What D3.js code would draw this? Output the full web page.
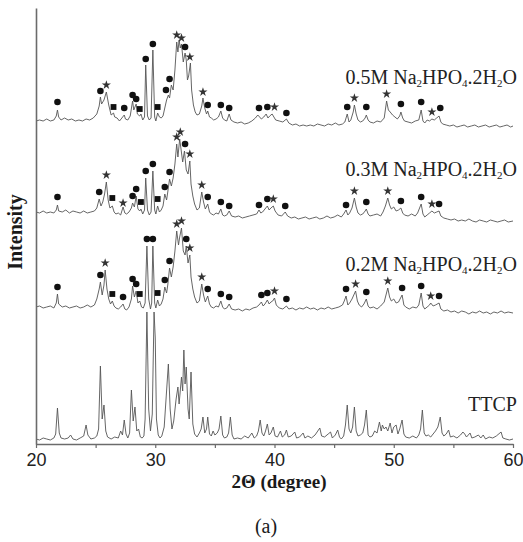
<!DOCTYPE html>
<html>
<head>
<meta charset="utf-8">
<script src="https://cdn.jsdelivr.net/npm/d3@7"></script>
<style>
  body { margin: 0; background: #fff; }
</style>
</head>
<body>
<div id="chart"></div>
<script>
// 2θ (degree), intensity above each pattern's own baseline (arbitrary units)
const m05 = [
  [20.0,-1],[20.3,0],[20.6,-1],[20.9,1],[21.2,-1],[21.5,0],[21.7,4],[21.8,10],[21.9,3],[22.1,0],[22.4,2],[22.7,0],
  [23.0,1],[23.3,-1],[23.6,0],[23.9,-1],[24.2,1],[24.5,0],[24.8,2],[25.1,6],[25.3,14],[25.4,23],[25.5,16],[25.7,20],
  [25.9,28],[26.1,15],[26.3,5],[26.5,7],[26.6,3],[26.8,2],[27.0,-1],[27.2,2],[27.4,5],[27.5,1],[27.7,0],[27.9,4],
  [28.1,19],[28.2,10],[28.4,16],[28.5,6],[28.7,4],[28.8,6],[28.95,0],[29.1,3],[29.2,55],[29.35,4],[29.5,0],[29.65,2],
  [29.8,70],[29.95,3],[30.05,-1],[30.2,7],[30.35,3],[30.5,2],[30.65,4],[30.8,12],[30.95,20],[31.1,25],[31.2,22],
  [31.35,35],[31.5,30],[31.65,50],[31.8,78],[31.9,68],[32.0,80],[32.1,72],[32.2,76],[32.35,58],[32.5,67],[32.6,60],
  [32.7,40],[32.8,44],[32.95,57],[33.05,30],[33.2,15],[33.35,8],[33.5,5],[33.7,6],[33.9,14],[34.0,22],[34.15,12],
  [34.3,6],[34.4,9],[34.55,3],[34.7,2],[34.9,0],[35.1,1],[35.3,3],[35.5,9],[35.65,2],[35.8,0],[36.0,-1],[36.2,6],
  [36.35,0],[36.6,-2],[36.9,-3],[37.2,-2],[37.5,-4],[37.8,-3],[38.1,-1],[38.4,2],[38.6,5],[38.75,3],[38.9,1],[39.1,3],
  [39.3,6],[39.45,2],[39.6,4],[39.8,6],[39.95,3],[40.1,0],[40.4,-1],[40.7,-2],[41.0,1],[41.2,-3],[41.5,-5],[41.8,-4],
  [42.1,-6],[42.4,-5],[42.7,-6],[43.0,-5],[43.3,-6],[43.6,-4],[43.9,-5],[44.2,-6],[44.5,-4],[44.8,-5],[45.1,-3],
  [45.4,-5],[45.7,-4],[45.9,-2],[46.1,6],[46.25,-2],[46.4,0],[46.6,8],[46.7,15],[46.85,6],[47.0,0],[47.2,-2],[47.4,-1],
  [47.6,2],[47.7,5],[47.85,0],[48.0,-2],[48.3,-3],[48.6,-1],[48.9,-2],[49.2,2],[49.4,19],[49.55,10],[49.7,8],[49.9,5],
  [50.1,3],[50.3,1],[50.5,4],[50.6,8],[50.75,2],[50.9,-1],[51.2,-2],[51.5,-3],[51.8,-1],[52.1,0],[52.3,10],[52.45,-1],
  [52.6,-3],[52.8,0],[53.0,-1],[53.2,1],[53.4,0],[53.6,2],[53.8,4],[53.95,-2],[54.1,-4],[54.4,-5],[54.7,-6],[55.0,-5],
  [55.3,-7],[55.6,-6],[55.9,-5],[56.2,-7],[56.5,-6],[56.8,-5],[57.1,-7],[57.4,-6],[57.7,-5],[58.0,-7],[58.3,-6],
  [58.6,-5],[58.9,-7],[59.2,-6],[59.5,-5],[59.8,-7],[60.0,-6]
];

const m03 = [
  [20.0,0],[20.3,-1],[20.6,1],[20.9,-1],[21.2,0],[21.5,-1],[21.7,2],[21.8,7],[21.9,1],[22.2,0],[22.5,2],[22.8,-1],
  [23.1,1],[23.4,0],[23.7,-1],[24.0,1],[24.3,-1],[24.6,0],[24.9,1],[25.1,4],[25.3,13],[25.45,6],[25.6,10],[25.75,18],
  [25.9,30],[26.05,12],[26.2,4],[26.4,6],[26.55,0],[26.7,-2],[26.9,-1],[27.1,-3],[27.3,5],[27.45,-1],[27.6,-2],
  [27.8,0],[28.0,4],[28.1,9],[28.25,5],[28.4,16],[28.55,3],[28.7,1],[28.8,3],[28.95,-2],[29.1,2],[29.2,34],[29.35,2],
  [29.5,-3],[29.65,0],[29.8,41],[29.95,2],[30.05,-2],[30.2,6],[30.35,0],[30.5,2],[30.65,6],[30.8,18],[30.95,12],
  [31.05,20],[31.2,33],[31.35,26],[31.5,34],[31.65,48],[31.8,68],[31.9,55],[32.05,73],[32.15,64],[32.3,50],[32.45,61],
  [32.6,42],[32.75,38],[32.9,51],[33.0,28],[33.15,16],[33.3,8],[33.5,2],[33.7,4],[33.9,20],[34.05,10],[34.2,3],
  [34.4,8],[34.55,0],[34.7,-2],[34.9,-3],[35.1,-1],[35.3,-2],[35.5,3],[35.65,-3],[35.8,-4],[36.0,-3],[36.2,1],
  [36.4,-4],[36.7,-5],[37.0,-4],[37.3,-6],[37.6,-5],[37.9,-4],[38.2,-3],[38.5,-2],[38.7,2],[38.85,-1],[39.0,0],
  [39.2,3],[39.4,6],[39.55,2],[39.7,4],[39.9,6],[40.05,1],[40.3,-3],[40.6,-4],[40.9,0],[41.1,-4],[41.4,-6],[41.7,-5],
  [42.0,-7],[42.3,-6],[42.6,-5],[42.9,-7],[43.2,-6],[43.5,-5],[43.8,-7],[44.1,-6],[44.4,-4],[44.7,-6],[45.0,-5],
  [45.3,-3],[45.6,-5],[45.8,-2],[46.0,2],[46.15,-3],[46.3,-1],[46.5,4],[46.7,14],[46.85,5],[47.0,-1],[47.2,-3],
  [47.4,-2],[47.6,1],[47.7,3],[47.85,-2],[48.0,-4],[48.3,-3],[48.6,-2],[48.9,-4],[49.1,0],[49.3,6],[49.5,14],
  [49.65,7],[49.8,3],[50.0,5],[50.2,1],[50.4,2],[50.6,4],[50.75,-1],[50.9,-3],[51.2,-4],[51.5,-2],[51.8,-4],[52.0,-1],
  [52.3,8],[52.45,-2],[52.6,-5],[52.8,-3],[53.0,-1],[53.2,1],[53.4,-1],[53.6,0],[53.8,1],[53.95,-4],[54.2,-6],
  [54.5,-7],[54.8,-8],[55.1,-7],[55.4,-9],[55.7,-8],[56.0,-9],[56.3,-7],[56.6,-9],[56.9,-10],[57.2,-8],[57.5,-9],
  [57.8,-10],[58.1,-8],[58.4,-9],[58.7,-10],[59.0,-9],[59.3,-8],[59.6,-10],[60.0,-9]
];

const m02 = [
  [20.0,0],[20.3,1],[20.6,-1],[20.9,0],[21.2,1],[21.5,-1],[21.7,4],[21.8,13],[21.9,3],[22.2,0],[22.5,1],[22.8,-1],
  [23.1,0],[23.4,1],[23.7,-1],[24.0,0],[24.3,2],[24.6,0],[24.9,2],[25.1,8],[25.3,18],[25.4,25],[25.55,12],[25.7,22],
  [25.8,37],[25.95,18],[26.1,8],[26.25,3],[26.4,6],[26.55,1],[26.7,-1],[26.9,-2],[27.1,0],[27.3,3],[27.45,-2],
  [27.6,-3],[27.8,0],[28.0,8],[28.1,21],[28.25,10],[28.4,16],[28.55,4],[28.7,6],[28.85,0],[29.0,-1],[29.15,4],
  [29.3,61],[29.45,8],[29.6,-2],[29.7,4],[29.8,61],[29.95,4],[30.05,-1],[30.2,7],[30.35,1],[30.5,3],[30.65,8],
  [30.8,20],[30.95,14],[31.05,22],[31.2,39],[31.35,30],[31.5,40],[31.65,56],[31.8,76],[31.95,62],[32.05,70],[32.2,79],
  [32.35,56],[32.5,52],[32.6,61],[32.75,44],[32.9,52],[33.0,30],[33.15,18],[33.3,10],[33.5,4],[33.7,6],[33.9,23],
  [34.05,12],[34.2,5],[34.4,11],[34.55,3],[34.7,0],[34.9,-1],[35.1,1],[35.3,0],[35.5,6],[35.65,0],[35.8,-2],[36.0,-1],
  [36.2,3],[36.4,-2],[36.7,-3],[37.0,-2],[37.3,-4],[37.6,-2],[37.9,-3],[38.2,-1],[38.5,0],[38.7,2],[38.9,5],[39.05,1],
  [39.2,3],[39.4,7],[39.55,3],[39.7,5],[39.85,6],[40.0,9],[40.15,2],[40.4,-1],[40.7,-2],[41.0,1],[41.2,-2],[41.5,-1],
  [41.8,-3],[42.1,-1],[42.4,-2],[42.7,0],[43.0,-2],[43.3,-1],[43.6,-3],[43.9,-1],[44.2,-2],[44.5,0],[44.8,-2],
  [45.1,-1],[45.4,0],[45.7,2],[45.85,6],[46.0,11],[46.15,2],[46.3,4],[46.5,8],[46.8,16],[46.95,6],[47.1,2],[47.3,0],
  [47.5,3],[47.7,8],[47.85,1],[48.0,-1],[48.3,0],[48.6,-2],[48.9,1],[49.2,5],[49.5,19],[49.65,10],[49.8,6],[50.0,8],
  [50.2,4],[50.4,5],[50.7,12],[50.85,2],[51.0,0],[51.3,-2],[51.6,0],[51.9,-1],[52.1,2],[52.3,14],[52.45,1],[52.6,-2],
  [52.8,0],[53.0,2],[53.1,4],[53.3,1],[53.5,2],[53.8,4],[53.95,-2],[54.2,-4],[54.5,-3],[54.8,-5],[55.1,-4],[55.4,-6],
  [55.7,-4],[56.0,-5],[56.3,-7],[56.6,-5],[56.9,-6],[57.2,-4],[57.5,-6],[57.8,-5],[58.1,-7],[58.4,-5],[58.7,-6],
  [59.0,-4],[59.3,-6],[59.6,-5],[60.0,-6]
];

const ttcp = [
  [20.0,0],[20.3,-1],[20.6,1],[20.9,0],[21.2,-1],[21.5,1],[21.65,5],[21.8,31],[21.95,6],[22.1,1],[22.4,0],[22.7,1],
  [22.9,4],[23.1,0],[23.4,-1],[23.7,1],[24.0,3],[24.2,14],[24.35,4],[24.6,0],[24.9,1],[25.1,3],[25.25,10],[25.4,73],
  [25.55,20],[25.7,34],[25.85,8],[26.0,2],[26.3,0],[26.6,2],[26.9,1],[27.1,8],[27.25,4],[27.4,19],[27.55,5],[27.7,1],
  [27.85,6],[28.0,49],[28.15,18],[28.3,32],[28.45,8],[28.6,10],[28.75,2],[28.9,1],[29.05,3],[29.15,20],[29.3,127],
  [29.45,30],[29.6,8],[29.75,25],[29.9,127],[30.0,101],[30.1,20],[30.25,4],[30.4,1],[30.55,3],[30.75,12],[30.9,39],
  [31.1,75],[31.25,30],[31.4,10],[31.55,18],[31.75,40],[31.9,52],[32.0,35],[32.2,62],[32.3,48],[32.4,89],[32.5,55],
  [32.6,72],[32.75,30],[32.85,20],[33.0,67],[33.15,15],[33.3,5],[33.5,2],[33.7,6],[33.85,10],[34.0,22],[34.15,6],
  [34.3,10],[34.4,22],[34.55,5],[34.7,3],[34.85,8],[35.0,4],[35.2,6],[35.35,10],[35.5,23],[35.65,4],[35.8,1],[36.0,2],
  [36.15,6],[36.3,22],[36.45,4],[36.6,0],[36.9,1],[37.2,0],[37.5,3],[37.8,1],[38.1,6],[38.3,1],[38.5,3],[38.65,8],
  [38.8,19],[38.95,6],[39.1,3],[39.25,8],[39.4,15],[39.55,4],[39.7,6],[39.9,12],[40.05,3],[40.25,2],[40.5,8],[40.65,2],
  [40.85,4],[41.0,9],[41.15,2],[41.4,3],[41.7,7],[41.85,1],[42.1,2],[42.4,6],[42.55,1],[42.8,3],[43.1,1],[43.4,4],
  [43.8,11],[43.95,3],[44.2,2],[44.5,5],[44.7,7],[44.85,1],[45.1,4],[45.3,9],[45.45,2],[45.6,0],[45.8,3],[45.95,14],
  [46.1,34],[46.25,10],[46.4,6],[46.55,12],[46.7,32],[46.85,8],[47.0,3],[47.2,4],[47.4,6],[47.55,14],[47.7,29],
  [47.85,4],[48.0,2],[48.2,3],[48.4,8],[48.6,6],[48.8,17],[48.95,8],[49.05,14],[49.2,10],[49.35,12],[49.5,8],[49.7,16],
  [49.85,6],[50.0,12],[50.2,14],[50.35,5],[50.5,10],[50.7,19],[50.85,5],[51.0,2],[51.3,1],[51.6,3],[51.9,1],[52.1,4],
  [52.25,10],[52.4,29],[52.55,6],[52.7,3],[52.9,4],[53.1,2],[53.3,5],[53.5,8],[53.7,12],[53.9,22],[54.05,6],[54.2,3],
  [54.4,5],[54.6,9],[54.75,2],[55.0,3],[55.3,1],[55.6,4],[55.8,7],[55.95,5],[56.1,2],[56.4,6],[56.55,1],[56.8,2],
  [57.1,4],[57.3,1],[57.5,4],[57.7,0],[58.0,2],[58.3,1],[58.6,3],[59.0,7],[59.15,1],[59.4,0],[59.7,-1],[60.0,0]
];

// phase markers: [2θ, height above baseline]
const dots05 = [[21.8,18],[25.4,29],[27.4,12],[28.1,25],[28.4,21],[29.2,61],[29.8,76],[30.9,30],[31.2,41],[32.5,73],
  [34.4,15],[35.5,15],[36.2,12],[38.7,12],[39.4,13],[41.0,7],[46.1,13],[47.7,13],[50.6,16],[52.3,18],[53.9,12]];
const stars05 = [[25.9,35],[31.8,85],[32.2,82],[32.9,63],[34.0,28],[40.0,13],[46.7,22],[49.4,26],[53.2,8]];
const squares05 = [[26.5,13],[28.7,11],[30.2,13]];

const dots03 = [[21.8,15],[25.3,20],[28.1,16],[28.4,23],[29.2,41],[29.8,48],[30.8,25],[31.2,40],[32.5,68],[34.4,15],
  [35.5,10],[36.2,6],[38.7,7],[39.4,13],[40.9,6],[46.0,7],[47.7,10],[50.6,11],[52.3,15],[53.8,8]];
const stars03 = [[25.9,37],[27.3,9],[31.8,75],[32.1,80],[32.9,58],[33.9,27],[39.9,13],[46.7,21],[49.5,21],[53.2,8]];
const squares03 = [[26.4,14],[28.8,10],[30.2,13]];

const dots02 = [[21.8,20],[25.4,32],[27.3,10],[28.1,28],[28.4,23],[29.3,68],[29.8,68],[30.8,27],[31.2,46],[32.6,68],
  [34.4,18],[35.5,13],[36.2,10],[38.9,12],[39.4,14],[41.0,8],[46.0,18],[47.7,15],[50.7,19],[52.3,21],[53.8,11]];
const stars02 = [[25.8,44],[31.8,83],[32.2,86],[32.9,59],[33.9,30],[40.0,16],[46.8,23],[49.5,26],[53.1,11]];
const squares02 = [[26.4,13],[28.7,13],[30.2,14]];

const seriesNames = ["0.5M", "0.3M", "0.2M", "TTCP"];
const offsets = [324, 232, 137, 5];
const xTicks = [20, 25, 30, 35, 40, 45, 50, 55, 60];

const width = 523;
const height = 542;
const margin = { top: 8, right: 10, bottom: 98, left: 36 };

const xScale = d3.scaleLinear().domain([20, 60]).range([margin.left, width - margin.right]);
const yScale = d3.scaleLinear().domain([0, 436]).range([height - margin.bottom, margin.top]);

const svg = d3
  .select("#chart")
  .append("svg")
  .attr("width", width)
  .attr("height", height)
  .style("display", "block");

const series = [
  { name: seriesNames[0], offset: offsets[0], data: m05, dots: dots05, stars: stars05, squares: squares05 },
  { name: seriesNames[1], offset: offsets[1], data: m03, dots: dots03, stars: stars03, squares: squares03 },
  { name: seriesNames[2], offset: offsets[2], data: m02, dots: dots02, stars: stars02, squares: squares02 },
  { name: seriesNames[3], offset: offsets[3], data: ttcp, dots: [], stars: [], squares: [] },
];

// traces
series.forEach((s) => {
  const line = d3
    .line()
    .x((d) => xScale(d[0]))
    .y((d) => yScale(d[1] + s.offset));

  svg
    .append("path")
    .attr("fill", "none")
    .attr("stroke", "#555")
    .attr("stroke-width", 0.9)
    .attr("stroke-linejoin", "round")
    .attr("d", line(s.data));

  const g = svg.append("g");
  g.selectAll(".dot")
    .data(s.dots)
    .join("circle")
    .attr("class", "dot")
    .attr("cx", (d) => xScale(d[0]))
    .attr("cy", (d) => yScale(d[1] + s.offset))
    .attr("r", 3.3)
    .attr("fill", "#111");

  g.selectAll(".star")
    .data(s.stars)
    .join("path")
    .attr("class", "star")
    .attr("transform", (d) => `translate(${xScale(d[0])},${yScale(d[1] + s.offset)})`)
    .attr("d", d3.symbol(d3.symbolStar, 26))
    .attr("fill", "#333");

  g.selectAll(".square")
    .data(s.squares)
    .join("path")
    .attr("class", "square")
    .attr("transform", (d) => `translate(${xScale(d[0])},${yScale(d[1] + s.offset)})`)
    .attr("d", d3.symbol(d3.symbolSquare, 34))
    .attr("fill", "#111");

  // label
  const lift = s.name === "TTCP" ? 28 : 36;
  const label = svg
    .append("text")
    .attr("x", 517)
    .attr("y", yScale(s.offset + lift))
    .attr("text-anchor", "end")
    .style("font-family", "'Liberation Serif', 'Times New Roman', serif")
    .style("font-size", "20px")
    .attr("fill", "#222");
  if (s.name === "TTCP") {
    label.text("TTCP");
  } else {
    const parts = [
      [s.name + " Na", false], ["2", true], ["HPO", false], ["4", true],
      [".2H", false], ["2", true], ["O", false],
    ];
    let shifted = false;
    parts.forEach(([t, sub]) => {
      const ts = label.append("tspan").text(t);
      if (sub && !shifted) { ts.attr("dy", 3).style("font-size", "11px"); shifted = true; }
      else if (sub) { ts.style("font-size", "11px"); }
      else if (shifted) { ts.attr("dy", -3); shifted = false; }
    });
  }
});

// axes
const xAxis = svg
  .append("g")
  .attr("transform", `translate(0, ${height - margin.bottom})`)
  .call(
    d3.axisBottom(xScale)
      .tickValues(xTicks)
      .tickSize(4)
      .tickSizeOuter(0)
      .tickFormat((d) => (d % 10 === 0 ? d : ""))
  );
xAxis.select(".domain").attr("stroke", "#6b6b6b").attr("stroke-width", 1.6);
xAxis.selectAll(".tick line").attr("stroke", "#6b6b6b").attr("stroke-width", 1.2);
xAxis
  .selectAll(".tick text")
  .attr("y", 9)
  .attr("fill", "#222")
  .style("font-family", "'Liberation Sans', Arial, sans-serif")
  .style("font-size", "18px");

const yAxis = svg
  .append("g")
  .attr("transform", `translate(${margin.left}, 0)`)
  .call(d3.axisLeft(yScale).tickValues([]).tickSizeOuter(0));
yAxis.select(".domain").attr("stroke", "#6b6b6b").attr("stroke-width", 1.6);

// titles
svg
  .append("text")
  .attr("x", 279)
  .attr("y", 488)
  .attr("text-anchor", "middle")
  .style("font-family", "'Liberation Serif', 'Times New Roman', serif")
  .style("font-size", "19px")
  .style("font-weight", "bold")
  .attr("fill", "#1a1a1a")
  .text("2Θ (degree)");

svg
  .append("text")
  .attr("transform", "rotate(-90)")
  .attr("x", -232)
  .attr("y", 22)
  .attr("text-anchor", "middle")
  .style("font-family", "'Liberation Serif', 'Times New Roman', serif")
  .style("font-size", "20px")
  .style("font-weight", "bold")
  .attr("fill", "#1a1a1a")
  .text("Intensity");

svg
  .append("text")
  .attr("x", 266)
  .attr("y", 533)
  .attr("text-anchor", "middle")
  .style("font-family", "'Liberation Serif', 'Times New Roman', serif")
  .style("font-size", "20px")
  .attr("fill", "#1a1a1a")
  .text("(a)");
</script>
</body>
</html>
